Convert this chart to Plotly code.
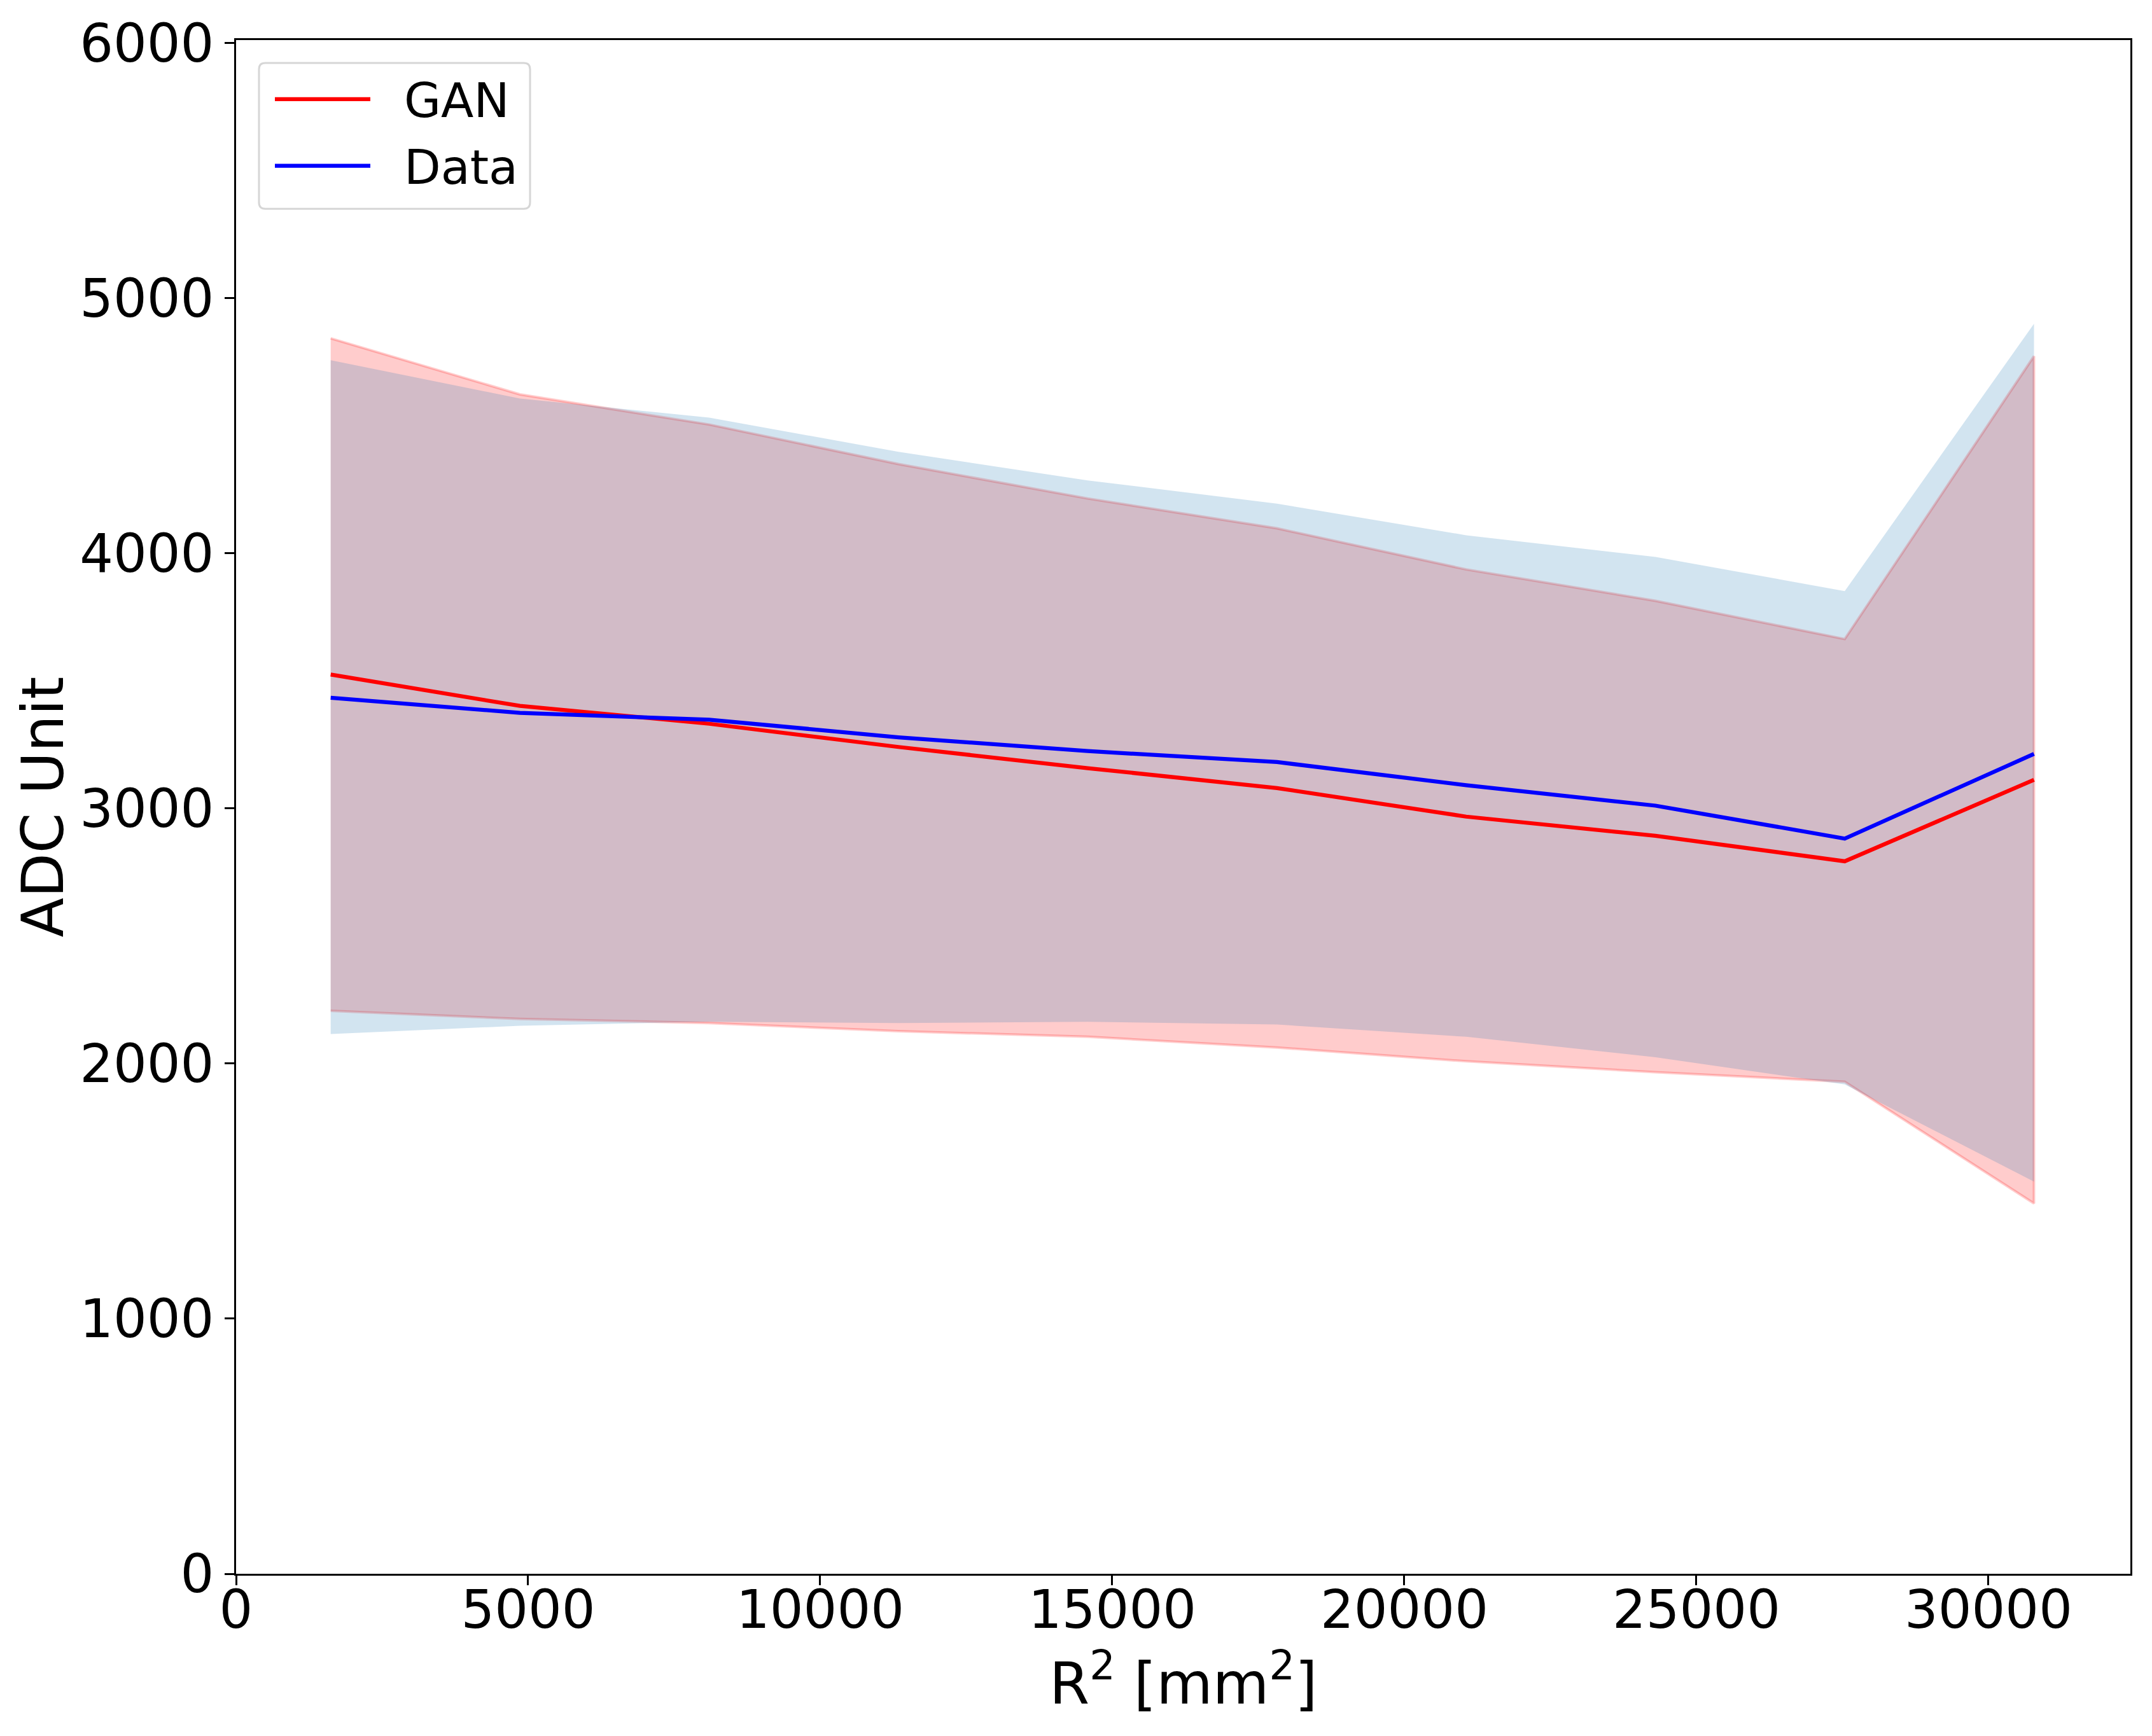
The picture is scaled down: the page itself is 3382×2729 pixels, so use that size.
import plotly.graph_objects as go

# ---- data ----
r2_centres = [1620, 4860, 8100, 11340, 14580, 17820, 21060, 24300, 27540, 30780]

gan_mean = [3525, 3402, 3332, 3241, 3158, 3080, 2968, 2893, 2793, 3112]
gan_upper = [4843, 4623, 4505, 4350, 4215, 4098, 3937, 3814, 3664, 4773]
gan_lower = [2207, 2175, 2159, 2127, 2105, 2063, 2009, 1966, 1929, 1452]

data_mean = [3434, 3375, 3348, 3279, 3225, 3182, 3091, 3011, 2882, 3214]
data_upper = [4757, 4607, 4532, 4398, 4286, 4195, 4071, 3986, 3852, 4900]
data_lower = [2116, 2148, 2164, 2159, 2164, 2153, 2105, 2025, 1918, 1537]

series_names = ["GAN", "Data"]
x_ticks = [0, 5000, 10000, 15000, 20000, 25000, 30000]
y_ticks = [0, 1000, 2000, 3000, 4000, 5000, 6000]

# ---- layout geometry (pixels, reference image coordinates) ----
W, H = 3382, 2729
L, R, T, B = 371, 3348, 57, 2474
PW, PH = R - L, B - T
OFF = 8  # page body margin offset of the rendered figure


def px(xp):
    return (xp - L) / PW


def py(yp):
    return (B - yp) / PH


FONT = "DejaVu Sans"

fig = go.Figure()

# GAN band
fig.add_trace(go.Scatter(
    x=r2_centres + r2_centres[::-1],
    y=gan_upper + gan_lower[::-1],
    fill="toself", fillcolor="rgba(255,0,0,0.2)",
    line=dict(color="rgba(255,0,0,0.2)", width=4),
    mode="lines", showlegend=False, hoverinfo="skip"))
# Data band
fig.add_trace(go.Scatter(
    x=r2_centres + r2_centres[::-1],
    y=data_upper + data_lower[::-1],
    fill="toself", fillcolor="rgba(31,119,180,0.2)",
    line=dict(color="rgba(31,119,180,0)", width=0),
    mode="lines", showlegend=False, hoverinfo="skip"))
# mean lines
fig.add_trace(go.Scatter(x=r2_centres, y=gan_mean, mode="lines",
                         line=dict(color="red", width=6.25), name=series_names[0],
                         showlegend=False))
fig.add_trace(go.Scatter(x=r2_centres, y=data_mean, mode="lines",
                         line=dict(color="blue", width=6.25), name=series_names[1],
                         showlegend=False))

axis_common = dict(
    showline=True, linecolor="black", linewidth=3, mirror=True,
    ticks="outside", ticklen=15, tickwidth=3, tickcolor="black",
    showgrid=False, zeroline=False,
    tickfont=dict(family=FONT, size=83, color="black"),
)

fig.update_xaxes(range=[0, 32430], tickvals=x_ticks,
                 ticktext=[str(v) for v in x_ticks], ticklabelstandoff=-33,
                 **axis_common)
fig.update_yaxes(range=[0, 6012], tickvals=y_ticks,
                 ticktext=[str(v) for v in y_ticks], **axis_common)

# custom legend (matplotlib style)
x0, x1, y0, y1 = 407, 833, 93, 323
rx, ry = 10 / PW, 10 / PH
X0, X1, Y0, Y1 = px(x0), px(x1), py(y1), py(y0)
path = (f"M{X0+rx},{Y0} L{X1-rx},{Y0} Q{X1},{Y0} {X1},{Y0+ry} "
        f"L{X1},{Y1-ry} Q{X1},{Y1} {X1-rx},{Y1} L{X0+rx},{Y1} "
        f"Q{X0},{Y1} {X0},{Y1-ry} L{X0},{Y0+ry} Q{X0},{Y0} {X0+rx},{Y0} Z")
shapes = [dict(type="path", path=path, xref="paper", yref="paper",
               fillcolor="rgba(255,255,255,0.8)",
               line=dict(color="rgb(214,214,214)", width=3), layer="above")]
annotations = []
for name, col, yl in [(series_names[0], "red", 150), (series_names[1], "blue", 255)]:
    shapes.append(dict(type="line", xref="paper", yref="paper",
                       x0=px(432), x1=px(582), y0=py(yl), y1=py(yl),
                       line=dict(color=col, width=6.25), layer="above"))
    annotations.append(dict(text=name, xref="paper", yref="paper",
                            x=px(633), y=py(yl + 2), xanchor="left", yanchor="middle",
                            showarrow=False,
                            font=dict(family=FONT, size=75, color="black")))

# axis titles
annotations.append(dict(text="ADC Unit", xref="paper", yref="paper",
                        x=px(67), y=0.5, textangle=-90,
                        xanchor="center", yanchor="middle", showarrow=False,
                        font=dict(family=FONT, size=91, color="black")))
annotations.append(dict(text="R<sup>2</sup> [mm<sup>2</sup>]", xref="paper", yref="paper",
                        x=0.5, y=py(2640), xanchor="center", yanchor="middle",
                        showarrow=False,
                        font=dict(family=FONT, size=91, color="black")))

fig.update_layout(
    width=W, height=H,
    margin=dict(l=L - OFF, r=W - R + OFF, t=T - OFF, b=H - B + OFF, pad=0),
    paper_bgcolor="white", plot_bgcolor="white",
    shapes=shapes, annotations=annotations,
    font=dict(family=FONT, color="black"),
    showlegend=False,
)

fig.write_html("out.html")
